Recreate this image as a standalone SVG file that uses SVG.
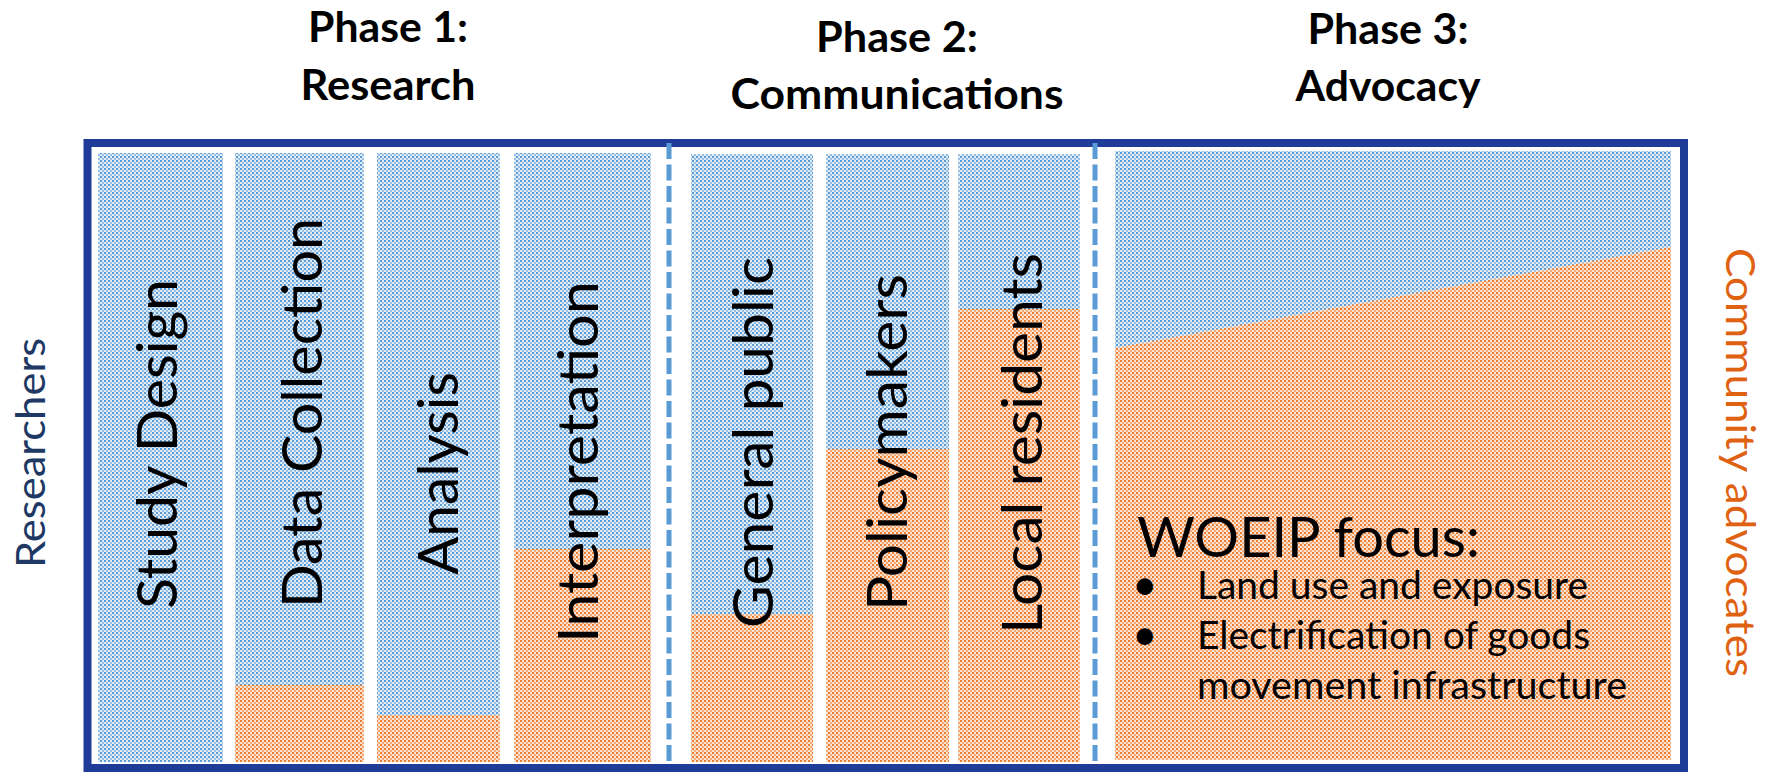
<svg xmlns="http://www.w3.org/2000/svg" width="1774" height="773" viewBox="0 0 1774 773">
<style>
.hdr{font-family:Lato,"Open Sans","Liberation Sans",sans-serif;font-weight:700;font-size:42px;fill:#000;text-anchor:middle}
.lbl{font-family:Lato,"Open Sans","Liberation Sans",sans-serif;font-size:57px;fill:#000}
.side{font-family:Lato,"Open Sans","Liberation Sans",sans-serif;font-size:41px}
.focus{font-family:Lato,"Open Sans","Liberation Sans",sans-serif;fill:#000}
.blue{fill:url(#pb)}
.orange{fill:url(#po)}
.div{stroke:#5b9bd5;stroke-width:5;stroke-dasharray:16 5.5;fill:none}
</style>
<defs>
<pattern id="pb" width="4" height="4" patternUnits="userSpaceOnUse">
<rect width="4" height="4" fill="#e2ecf7"/>
<rect width="2" height="2" fill="#5b9bd5"/>
<rect x="2" y="2" width="2" height="2" fill="#5b9bd5" opacity="0.55"/>
</pattern>
<pattern id="po" width="4" height="4" patternUnits="userSpaceOnUse">
<rect width="4" height="4" fill="#fbe2d1"/>
<rect width="2" height="2" fill="#ed7d31"/>
<rect x="2" y="2" width="2" height="2" fill="#ed7d31" opacity="0.55"/>
</pattern>
</defs>
<rect width="1774" height="773" fill="#fff"/>

<g id="headers">
<text class="hdr" x="388" y="42" textLength="160" lengthAdjust="spacingAndGlyphs">Phase 1:</text>
<text class="hdr" x="388" y="100" textLength="175" lengthAdjust="spacingAndGlyphs">Research</text>
<text class="hdr" x="897" y="52" textLength="162" lengthAdjust="spacingAndGlyphs">Phase 2:</text>
<text class="hdr" x="897" y="109" textLength="333" lengthAdjust="spacingAndGlyphs">Communications</text>
<text class="hdr" x="1388" y="44" textLength="161" lengthAdjust="spacingAndGlyphs">Phase 3:</text>
<text class="hdr" x="1388" y="101" textLength="185" lengthAdjust="spacingAndGlyphs">Advocacy</text>
</g>

<g id="study-design">
<rect class="blue" x="98" y="153" width="125" height="609"/>
<text class="lbl" transform="translate(177,609) rotate(-90)" textLength="330" lengthAdjust="spacingAndGlyphs">Study Design</text>
</g>
<g id="data-collection">
<rect class="blue" x="235" y="153" width="129" height="532"/>
<rect class="orange" x="235" y="685" width="129" height="77"/>
<text class="lbl" transform="translate(322,608) rotate(-90)" textLength="390" lengthAdjust="spacingAndGlyphs">Data Collection</text>
</g>
<g id="analysis">
<rect class="blue" x="377" y="153" width="123" height="562"/>
<rect class="orange" x="377" y="715" width="123" height="47"/>
<text class="lbl" transform="translate(458,575) rotate(-90)" textLength="203" lengthAdjust="spacingAndGlyphs">Analysis</text>
</g>
<g id="interpretation">
<rect class="blue" x="514" y="153" width="137" height="396"/>
<rect class="orange" x="514" y="549" width="137" height="213"/>
<text class="lbl" transform="translate(598,643) rotate(-90)" textLength="362" lengthAdjust="spacingAndGlyphs">Interpretation</text>
</g>
<g id="general-public">
<rect class="blue" x="691" y="154" width="122" height="460"/>
<rect class="orange" x="691" y="614" width="122" height="148"/>
<text class="lbl" transform="translate(773,628) rotate(-90)" textLength="371" lengthAdjust="spacingAndGlyphs">General public</text>
</g>
<g id="policymakers">
<rect class="blue" x="826" y="154" width="123" height="295"/>
<rect class="orange" x="826" y="449" width="123" height="313"/>
<text class="lbl" transform="translate(907,611) rotate(-90)" textLength="337" lengthAdjust="spacingAndGlyphs">Policymakers</text>
</g>
<g id="local-residents">
<rect class="blue" x="958" y="154" width="122" height="155"/>
<rect class="orange" x="958" y="309" width="122" height="453"/>
<text class="lbl" transform="translate(1042,634) rotate(-90)" textLength="381" lengthAdjust="spacingAndGlyphs">Local residents</text>
</g>
<g id="advocacy">
<polygon class="blue" points="1115,151 1671,151 1671,247 1115,348"/>
<polygon class="orange" points="1115,348 1671,247 1671,760 1115,760"/>
<text class="focus" x="1137" y="557" font-size="57" textLength="343" lengthAdjust="spacingAndGlyphs">WOEIP focus:</text>
<text class="focus" x="1132" y="600" font-size="44">•</text>
<text class="focus" x="1197" y="599" font-size="38" textLength="391" lengthAdjust="spacingAndGlyphs">Land use and exposure</text>
<text class="focus" x="1132" y="650" font-size="44">•</text>
<text class="focus" x="1197" y="649" font-size="38" textLength="393" lengthAdjust="spacingAndGlyphs">Electrification of goods</text>
<text class="focus" x="1197" y="699" font-size="38" textLength="430" lengthAdjust="spacingAndGlyphs">movement infrastructure</text>
</g>

<g id="frame">
<rect x="87.5" y="143" width="1596.5" height="625" fill="none" stroke="#1f3c98" stroke-width="8"/>
</g>

<g id="connectors">
<line class="div" x1="669" y1="143" x2="669" y2="766"/>
<line class="div" x1="1095" y1="143" x2="1095" y2="766"/>
</g>

<g id="side-labels">
<text class="side" fill="#203864" transform="translate(45,568) rotate(-90)" textLength="230" lengthAdjust="spacingAndGlyphs">Researchers</text>
<text class="side" fill="#df6212" font-size="42" transform="translate(1726,248) rotate(90)" textLength="429" lengthAdjust="spacingAndGlyphs">Community advocates</text>
</g>
</svg>
